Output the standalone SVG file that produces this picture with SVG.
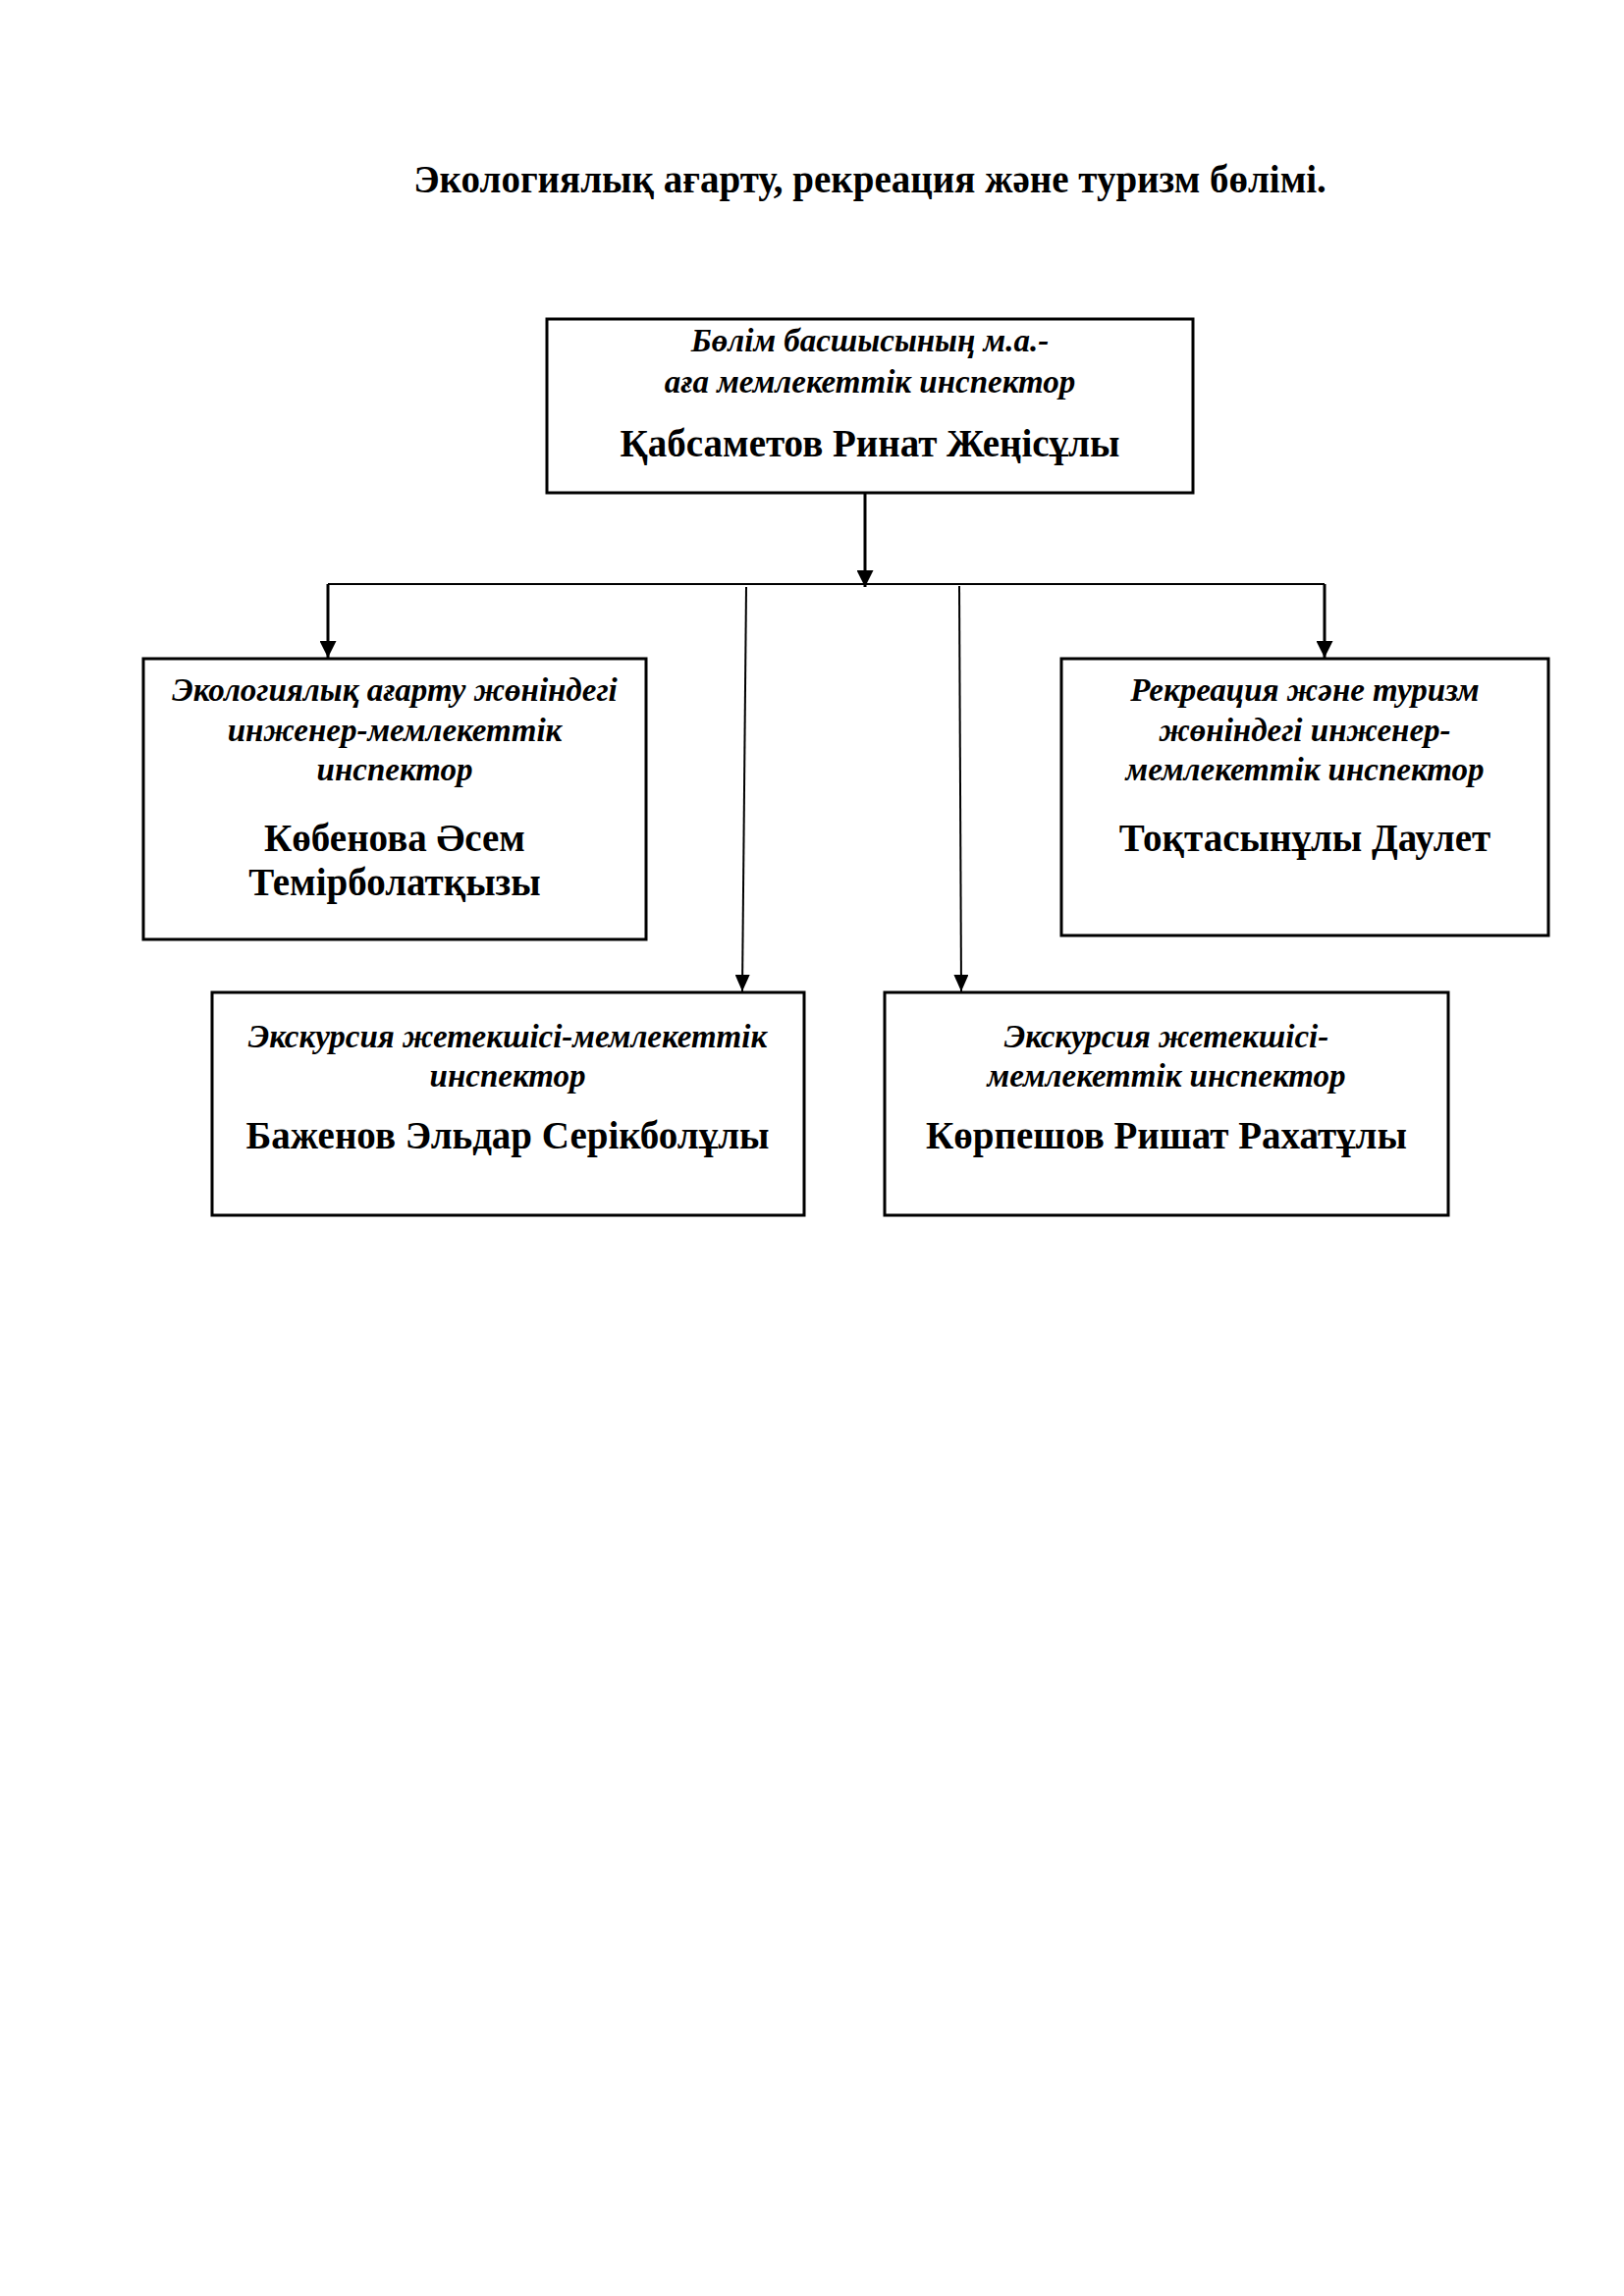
<svg xmlns="http://www.w3.org/2000/svg" width="1654" height="2339" viewBox="0 0 1654 2339">
<style>
.box{fill:#fff;stroke:#000;stroke-width:3}
.role{font-family:"Liberation Serif","Times New Roman",serif;font-style:italic;font-weight:bold;font-size:33px;text-anchor:middle;fill:#000}
.name{font-family:"Liberation Serif","Times New Roman",serif;font-weight:bold;font-size:39px;text-anchor:middle;fill:#000}
.title{font-family:"Liberation Serif","Times New Roman",serif;font-weight:bold;font-size:39px;text-anchor:middle;fill:#000}
.con{fill:none;stroke:#000;stroke-width:3}
.thin{fill:none;stroke:#000;stroke-width:2}
</style>
<defs>
<marker id="arr" markerUnits="userSpaceOnUse" markerWidth="17" markerHeight="17" refX="17" refY="8.5" orient="auto">
<path d="M0,0 L17,8.5 L0,17 z" fill="#000"/>
</marker>
<marker id="arr2" markerUnits="userSpaceOnUse" markerWidth="17" markerHeight="15" refX="17" refY="7.5" orient="auto">
<path d="M0,0 L17,7.5 L0,15 z" fill="#000"/>
</marker>
</defs>
<rect width="1654" height="2339" fill="#fff"/>
<text class="title" x="886" y="196">Экологиялық ағарту, рекреация және туризм бөлімі.</text>
<g id="connectors">
<path class="con" d="M881,502 V598" marker-end="url(#arr)"/>
<path class="thin" d="M334,595 H1349" stroke="#222"/>
<path class="con" d="M334,595 V670" marker-end="url(#arr)"/>
<path class="con" d="M1349,595 V670" marker-end="url(#arr)"/>
<path class="thin" d="M760,598 L756,1010" marker-end="url(#arr2)"/>
<path class="thin" d="M977,597 L979,1010" marker-end="url(#arr2)"/>
</g>
<g id="node-head">
<rect class="box" x="557" y="325" width="658" height="177" stroke-width="2"/>
<text class="role" x="886" y="358">Бөлім басшысының м.а.-</text>
<text class="role" x="886" y="400">аға мемлекеттік инспектор</text>
<text class="name" x="886" y="465">Қабсаметов Ринат Жеңісұлы</text>
</g>
<g id="node-kobenova">
<rect class="box" x="146" y="671" width="512" height="286"/>
<text class="role" x="402" y="714">Экологиялық ағарту жөніндегі</text>
<text class="role" x="402" y="755">инженер-мемлекеттік</text>
<text class="role" x="402" y="795">инспектор</text>
<text class="name" x="402" y="867">Көбенова Әсем</text>
<text class="name" x="402" y="912">Темірболатқызы</text>
</g>
<g id="node-toktasynuly">
<rect class="box" x="1081" y="671" width="496" height="282"/>
<text class="role" x="1329" y="714">Рекреация және туризм</text>
<text class="role" x="1329" y="755">жөніндегі инженер-</text>
<text class="role" x="1329" y="795">мемлекеттік инспектор</text>
<text class="name" x="1329" y="867">Тоқтасынұлы Даулет</text>
</g>
<g id="node-bazhenov">
<rect class="box" x="216" y="1011" width="603" height="227"/>
<text class="role" x="517" y="1067">Экскурсия жетекшісі-мемлекеттік</text>
<text class="role" x="517" y="1107">инспектор</text>
<text class="name" x="517" y="1170">Баженов Эльдар Серікболұлы</text>
</g>
<g id="node-korpeshov">
<rect class="box" x="901" y="1011" width="574" height="227"/>
<text class="role" x="1188" y="1067">Экскурсия жетекшісі-</text>
<text class="role" x="1188" y="1107">мемлекеттік инспектор</text>
<text class="name" x="1188" y="1170">Көрпешов Ришат Рахатұлы</text>
</g>
</svg>
